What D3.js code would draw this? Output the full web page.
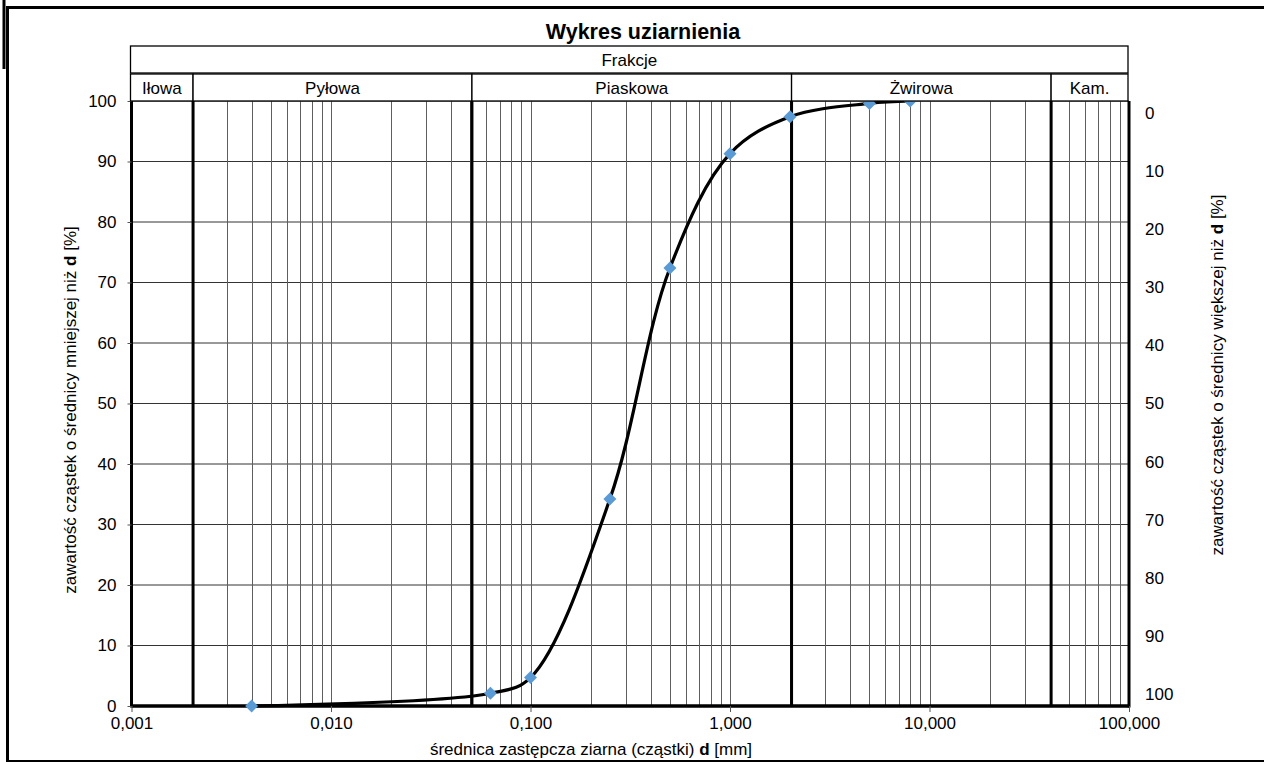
<!DOCTYPE html>
<html>
<head>
<meta charset="utf-8">
<script src="https://cdn.jsdelivr.net/npm/d3@7"></script>
<style>
  html, body { margin: 0; padding: 0; background: #fff; }
  svg { display: block; font-family: "Liberation Sans", Arial, sans-serif; }
</style>
</head>
<body>
<svg id="chart" width="1264" height="762"></svg>
<script>
// Sieve analysis: grain diameter d [mm] and percent of particles finer than d
const diameters = [0.004, 0.063, 0.1, 0.25, 0.5, 1, 2, 5, 8];
const passing   = [0, 2.1, 4.7, 34.2, 72.4, 91.3, 97.4, 99.6, 100];

// Soil fractions and their diameter limits [mm]
const fractionNames  = ["Iłowa", "Pyłowa", "Piaskowa", "Żwirowa", "Kam."];
const fractionBounds = [0.001, 0.002, 0.05, 2, 40, 100];

// Axis ticks
const xTicks     = [0.001, 0.01, 0.1, 1, 10, 100];
const yTicks     = [0, 10, 20, 30, 40, 50, 60, 70, 80, 90, 100];
const rightTicks = [0, 10, 20, 30, 40, 50, 60, 70, 80, 90, 100];
const rightDomain = [-2, 102];

const svg = d3.select("#chart");
const W = 1264, H = 762;
const plot = { left: 131.5, right: 1129, top: 101, bottom: 706 };

const x = d3.scaleLog().domain([0.001, 100]).range([plot.left, plot.right]);
const y = d3.scaleLinear().domain([0, 100]).range([plot.bottom, plot.top]);
const yR = d3.scaleLinear().domain(rightDomain).range([plot.top, plot.bottom]);

const pl = d3.formatLocale({ decimal: ",", thousands: " ", grouping: [3], currency: ["", " zł"] });
const fmtX = pl.format(".3f");

svg.append("rect").attr("width", W).attr("height", H).attr("fill", "#fff");

// Gridlines
const grid = svg.append("g");
grid.selectAll("line.h").data(yTicks).join("line")
  .attr("x1", plot.left).attr("x2", plot.right)
  .attr("y1", d => y(d)).attr("y2", d => y(d))
  .attr("stroke", "#333").attr("stroke-width", 1);
grid.selectAll("line.v").data(x.ticks()).join("line")
  .attr("x1", d => Math.round(x(d)) + 0.5).attr("x2", d => Math.round(x(d)) + 0.5)
  .attr("y1", plot.top).attr("y2", plot.bottom)
  .attr("stroke", "#5e5e5e").attr("stroke-width", 1);

// Fraction limit lines
svg.append("g").selectAll("line").data(fractionBounds.slice(1, -1)).join("line")
  .attr("x1", d => x(d) + 1.5).attr("x2", d => x(d) + 1.5)
  .attr("y1", plot.top).attr("y2", plot.bottom)
  .attr("stroke", "#000").attr("stroke-width", 3);

// Plot frame: thick left, right and bottom edges
const frame = svg.append("g").attr("stroke", "#000").attr("fill", "none");
frame.append("line").attr("x1", plot.left).attr("x2", plot.left)
  .attr("y1", plot.top).attr("y2", plot.bottom + 1.5).attr("stroke-width", 3);
frame.append("line").attr("x1", plot.right).attr("x2", plot.right)
  .attr("y1", plot.top).attr("y2", plot.bottom + 1.5).attr("stroke-width", 3);
frame.append("line").attr("x1", plot.left).attr("x2", plot.right)
  .attr("y1", plot.bottom).attr("y2", plot.bottom).attr("stroke-width", 3.5);

// Axes (ticks + labels)
const xAxis = svg.append("g").attr("transform", `translate(0,${plot.bottom})`)
  .call(d3.axisBottom(x).tickValues(xTicks).tickFormat(fmtX).tickSize(6).tickPadding(5));
xAxis.select(".domain").remove();
xAxis.selectAll("line").attr("stroke", "#555");
xAxis.selectAll("text").attr("font-size", 17).attr("fill", "#000")
  .attr("font-family", "Liberation Sans, Arial, sans-serif");

const yAxis = svg.append("g").attr("transform", `translate(${plot.left},0)`)
  .call(d3.axisLeft(y).tickValues(yTicks).tickSize(4).tickPadding(11));
yAxis.select(".domain").remove();
yAxis.selectAll("line").attr("stroke", "#555");
yAxis.selectAll("text").attr("font-size", 17).attr("fill", "#000")
  .attr("font-family", "Liberation Sans, Arial, sans-serif");

const yAxisR = svg.append("g").attr("transform", `translate(${plot.right},0)`)
  .call(d3.axisRight(yR).tickValues(rightTicks).tickSize(0).tickPadding(16));
yAxisR.select(".domain").remove();
yAxisR.selectAll("text").attr("font-size", 17).attr("fill", "#000")
  .attr("font-family", "Liberation Sans, Arial, sans-serif");

// Grading curve
const pts = diameters.map((d, i) => [x(d), y(passing[i])]);
svg.append("path")
  .attr("d", d3.line().curve(d3.curveCatmullRom.alpha(0.5))(pts))
  .attr("fill", "none").attr("stroke", "#000").attr("stroke-width", 3.2)
  .attr("stroke-linejoin", "round");

// Markers
const r = 6.5;
svg.append("g").selectAll("path").data(pts).join("path")
  .attr("d", p => `M${p[0]},${p[1] - r}L${p[0] + r},${p[1]}L${p[0]},${p[1] + r}L${p[0] - r},${p[1]}Z`)
  .attr("fill", "#5B9BD5");

// Header: fractions
const hdr = svg.append("g");
hdr.append("rect").attr("x", plot.left - 1).attr("y", 46)
  .attr("width", plot.right - 1 - (plot.left - 1)).attr("height", 27)
  .attr("fill", "#fff").attr("stroke", "#000").attr("stroke-width", 1.3);
hdr.append("text").attr("x", (plot.left + plot.right) / 2 - 1).attr("y", 60).attr("dy", "0.35em")
  .attr("text-anchor", "middle").attr("font-size", 17).text("Frakcje");

const boxes = fractionNames.map((n, i) => ({
  name: n,
  x0: i === 0 ? plot.left - 1 : x(fractionBounds[i]) + 1.5,
  x1: i === fractionNames.length - 1 ? plot.right - 1 : x(fractionBounds[i + 1]) + 1.5
}));
hdr.selectAll("rect.f").data(boxes).join("rect")
  .attr("x", d => d.x0).attr("y", 74).attr("width", d => d.x1 - d.x0).attr("height", 27)
  .attr("fill", "#fff").attr("stroke", "#000").attr("stroke-width", 1.3);
hdr.selectAll("text.f").data(boxes).join("text")
  .attr("x", d => (d.x0 + d.x1) / 2).attr("y", 88).attr("dy", "0.35em")
  .attr("text-anchor", "middle").attr("font-size", 17).text(d => d.name);

// Titles
svg.append("text").attr("x", 643).attr("y", 31).attr("dy", "0.35em")
  .attr("text-anchor", "middle").attr("font-size", 21.5).attr("font-weight", "bold")
  .text("Wykres uziarnienia");

const xt = svg.append("text").attr("x", 591).attr("y", 749).attr("dy", "0.35em")
  .attr("text-anchor", "middle").attr("font-size", 17);
xt.append("tspan").text("średnica zastępcza ziarna (cząstki) ");
xt.append("tspan").attr("font-weight", "bold").text("d");
xt.append("tspan").text(" [mm]");

const ylt = svg.append("text").attr("transform", "translate(70,410) rotate(-90)").attr("dy", "0.35em")
  .attr("text-anchor", "middle").attr("font-size", 17);
ylt.append("tspan").text("zawartość cząstek o średnicy mniejszej niż ");
ylt.append("tspan").attr("font-weight", "bold").text("d");
ylt.append("tspan").text(" [%]");

const yrt = svg.append("text").attr("transform", "translate(1217,375) rotate(-90)").attr("dy", "0.35em")
  .attr("text-anchor", "middle").attr("font-size", 17);
yrt.append("tspan").text("zawartość cząstek o średnicy większej niż ");
yrt.append("tspan").attr("font-weight", "bold").text("d");
yrt.append("tspan").text(" [%]");

// Outer chart frame
const outer = svg.append("g").attr("stroke", "#000").attr("fill", "none");
outer.append("line").attr("x1", 4).attr("x2", 4).attr("y1", 0).attr("y2", 69).attr("stroke-width", 3);
outer.append("line").attr("x1", 6).attr("x2", W).attr("y1", 7.5).attr("y2", 7.5).attr("stroke-width", 3);
outer.append("line").attr("x1", 7.5).attr("x2", 7.5).attr("y1", 6).attr("y2", H).attr("stroke-width", 3);
outer.append("line").attr("x1", 6).attr("x2", W).attr("y1", 761).attr("y2", 761).attr("stroke-width", 2);
</script>
</body>
</html>
